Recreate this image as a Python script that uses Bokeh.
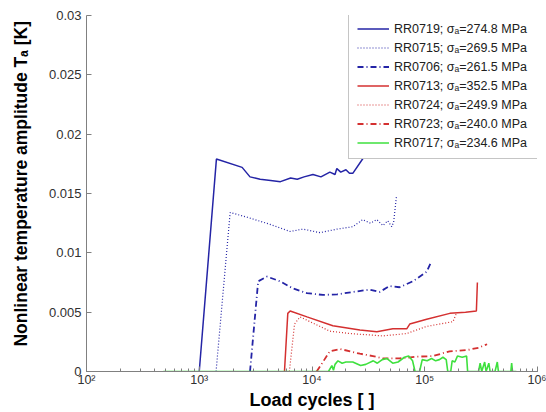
from bokeh.plotting import figure
from bokeh.models import Range1d, LogTicker, FixedTicker, Legend, LegendItem
from bokeh.embed import file_html
from bokeh.resources import INLINE

# ---- data ----
rr0719_x = [1000, 1420, 2400, 2820, 3470, 4300, 5250, 6460, 7400, 8500, 10200, 12000, 14400, 16000, 16600, 18000, 20000, 21500, 23000, 29000]
rr0719_y = [0.0, 0.0179, 0.0172, 0.0164, 0.0162, 0.0161, 0.0160, 0.0163, 0.0162, 0.0164, 0.0166, 0.0164, 0.0168, 0.0166, 0.0171, 0.0168, 0.0170, 0.0167, 0.0167, 0.0181]

rr0715_x = [1410, 1880, 2660, 4250, 6380, 8320, 11760, 16700, 23000, 28100, 33000, 37600, 42500, 47000, 51000, 53000, 56000]
rr0715_y = [0.0, 0.0134, 0.0130, 0.0124, 0.0118, 0.0120, 0.0117, 0.0120, 0.0122, 0.0128, 0.0125, 0.0128, 0.0123, 0.0127, 0.0122, 0.0126, 0.0147]

rr0706_x = [2820, 3330, 3990, 5210, 6780, 9030, 12500, 16700, 23000, 32500, 39700, 48700, 59700, 78400, 104000, 115000]
rr0706_y = [0.0, 0.0076, 0.0080, 0.0076, 0.0070, 0.0066, 0.00645, 0.0065, 0.0067, 0.0069, 0.0067, 0.0072, 0.0071, 0.0076, 0.0084, 0.0093]

rr0713_x = [5700, 6100, 6400, 9030, 15300, 26600, 37600, 52100, 69200, 73600, 104000, 167000, 230000, 287000, 293000]
rr0713_y = [0.0, 0.0049, 0.0051, 0.0046, 0.00385, 0.0035, 0.00335, 0.0036, 0.0036, 0.0040, 0.0044, 0.0049, 0.0050, 0.0051, 0.0075]

rr0724_x = [6300, 7000, 7830, 14400, 21700, 42600, 69200, 104000, 178000, 191000]
rr0724_y = [0.0, 0.0040, 0.0046, 0.0034, 0.0032, 0.0030, 0.0032, 0.0038, 0.0042, 0.0049]

rr0723_x = [11000, 14400, 17700, 26600, 34700, 42500, 59700, 85000, 118000, 166000, 235000, 300000, 357000]
rr0723_y = [0.0, 0.0017, 0.0019, 0.0015, 0.0013, 0.0011, 0.0011, 0.00125, 0.0013, 0.0017, 0.0018, 0.0020, 0.0023]

rr0717_x = [480, 14000, 15000, 15500, 16000, 17000, 18500, 20000, 23000, 27000, 30000, 35000, 38000, 42000,
            46000, 52000, 58000, 66000, 72000, 78000, 82000, 90000, 95000, 105000, 115000, 125000, 135000,
            145000, 155000, 160000, 170000, 175000, 185000, 195000, 215000, 235000, 240000, 300000, 310000,
            320000, 340000, 350000, 370000, 380000, 420000, 440000, 450000, 460000, 580000, 590000, 600000, 650000]
rr0717_y = [0.0, 0.0, 0.0005, 0.0001, 0.0006, 0.0009, 0.0007, 0.0008, 0.0008, 0.0005, 0.0006, 0.0009, 0.0007, 0.0010,
            0.0011, 0.0007, 0.0008, 0.0012, 0.0013, 0.0009, 0.0, 0.0, 0.0010, 0.0009, 0.0011, 0.0009, 0.0010,
            0.0012, 0.0010, 0.0, 0.0, 0.0009, 0.0008, 0.0013, 0.0012, 0.0013, 0.0, 0.0, 0.0007,
            0.0, 0.0008, 0.0, 0.0007, 0.0, 0.0, 0.0008, 0.0, 0.0, 0.0, 0.0007, 0.0, 0.0]

labels = ["RR0719; σₐ=274.8 MPa", "RR0715; σₐ=269.5 MPa", "RR0706; σₐ=261.5 MPa",
          "RR0713; σₐ=352.5 MPa", "RR0724; σₐ=249.9 MPa", "RR0723; σₐ=240.0 MPa",
          "RR0717; σₐ=234.6 MPa"]

y_ticks = [0, 0.005, 0.01, 0.015, 0.02, 0.025, 0.03]
y_tick_labels = ["0", "0.005", "0.01", "0.015", "0.02", "0.025", "0.03"]
x_tick_labels = {100: "10²", 1000: "10³", 10000: "10⁴", 100000: "10⁵", 1000000: "10⁶"}

BLUE = "#2424a6"
RED = "#d43030"
GREEN = "#3ee03e"
FONT = "Liberation Sans"

p = figure(width=546, height=412, x_axis_type="log", output_backend="svg", toolbar_location=None,
           x_range=Range1d(100, 1e6), y_range=Range1d(0, 0.03),
           min_border_left=86, min_border_right=9, min_border_top=15, min_border_bottom=39)
p.outline_line_color = None
p.xgrid.visible = False
p.ygrid.visible = False
p.background_fill_color = "white"
p.border_fill_color = "white"

series = [
    (rr0719_x, rr0719_y, BLUE, "solid", 1.5),
    (rr0715_x, rr0715_y, BLUE, "1 2", 1.2),
    (rr0706_x, rr0706_y, BLUE, "6 3 1 3", 1.8),
    (rr0713_x, rr0713_y, RED, "solid", 1.5),
    (rr0724_x, rr0724_y, RED, "1 2", 1.2),
    (rr0723_x, rr0723_y, RED, "6 3 1 3", 1.8),
    (rr0717_x, rr0717_y, GREEN, "solid", 1.6),
]
items = []
for (xs, ys, c, dash, w), lab in zip(series, labels):
    r = p.line(xs, ys, line_color=c, line_dash=dash, line_width=w)
    items.append(LegendItem(label=lab, renderers=[r]))

legend = Legend(items=items, location=(262, 212))
legend.margin = 0
legend.padding = 8
legend.spacing = 4
legend.label_height = 15
legend.glyph_height = 15
legend.glyph_width = 32
legend.label_width = 141
legend.label_standoff = 5
legend.label_text_font = FONT
legend.label_text_font_size = "12.5px"
legend.label_text_color = "#202020"
legend.border_line_color = "#8c8c8c"
legend.border_line_width = 1
legend.background_fill_alpha = 1
p.add_layout(legend)

for ax in (p.xaxis[0], p.yaxis[0]):
    ax.axis_line_color = "#808080"
    ax.major_tick_line_color = "#808080"
    ax.minor_tick_line_color = "#808080"
    ax.major_tick_in = 5
    ax.major_tick_out = 0
    ax.minor_tick_in = 3
    ax.minor_tick_out = 0
    ax.major_label_text_font = FONT
    ax.major_label_text_color = "#303030"
    ax.axis_label_text_font = FONT
    ax.axis_label_text_font_style = "bold"
    ax.axis_label_text_color = "#000000"

p.xaxis.ticker = LogTicker(desired_num_ticks=5, num_minor_ticks=10)
p.xaxis.major_label_overrides = x_tick_labels
p.xaxis.major_label_text_font_size = "12.5px"
p.xaxis.major_label_standoff = 1
p.xaxis.axis_label = "Load cycles [ ]"
p.xaxis.axis_label_text_font_size = "18px"
p.xaxis.axis_label_standoff = 0

p.yaxis.ticker = FixedTicker(ticks=y_ticks)
p.yaxis.minor_tick_line_color = None
p.yaxis.major_label_overrides = dict(zip(y_ticks, y_tick_labels))
p.yaxis.major_label_text_font_size = "13px"
p.yaxis.major_label_standoff = 5
p.yaxis.axis_label = "\u00a0\u00a0\u00a0\u00a0Nonlinear temperature amplitude Tₐ [K]"
p.yaxis.axis_label_text_font_size = "17.5px"
p.yaxis.axis_label_standoff = 15

open("out.html", "w").write(file_html(p, INLINE))
